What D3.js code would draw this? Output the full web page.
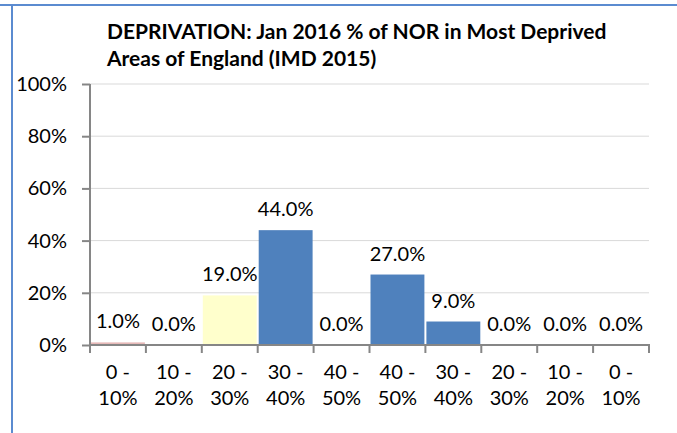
<!DOCTYPE html>
<html>
<head>
<meta charset="utf-8">
<script src="https://cdn.jsdelivr.net/npm/d3@7"></script>
<style>
  body { margin: 0; background: #fff; }
  text { font-family: Lato, "Open Sans", sans-serif; fill: #000; }
</style>
</head>
<body>
<div id="chart"></div>
<script>
// data
var categories = ["0 - 10%", "10 - 20%", "20 - 30%", "30 - 40%", "40 - 50%",
                  "40 - 50%", "30 - 40%", "20 - 30%", "10 - 20%", "0 - 10%"]
var values = [1.0, 0.0, 19.0, 44.0, 0.0, 27.0, 9.0, 0.0, 0.0, 0.0]
var barColors = ["#E6B9B8", "#4F81BD", "#FFFFCC", "#4F81BD", "#4F81BD",
                 "#4F81BD", "#4F81BD", "#4F81BD", "#4F81BD", "#4F81BD"]
var yTicks = [0, 20, 40, 60, 80, 100]
var titleLines = ["DEPRIVATION: Jan 2016 % of NOR in Most Deprived",
                  "Areas of England (IMD 2015)"]

var W = 677, H = 433
var plotLeft = 90, plotRight = 649, plotTop = 84, plotBottom = 345

var svg = d3.select("#chart").append("svg")
  .attr("width", W)
  .attr("height", H)

// frame
svg.append("line")
  .attr("x1", 0).attr("x2", W).attr("y1", 5).attr("y2", 5)
  .attr("stroke", "#5B8BD0").attr("stroke-width", 2)
svg.append("line")
  .attr("x1", 12).attr("x2", 12).attr("y1", 5).attr("y2", H)
  .attr("stroke", "#5B8BD0").attr("stroke-width", 2)

// title
svg.append("g").selectAll("text")
  .data(titleLines)
  .join("text")
  .attr("x", 107)
  .attr("y", (d, i) => 39 + i * 27)
  .attr("font-size", 21)
  .attr("font-weight", "bold")
  .text(d => d)

var x = d3.scaleBand()
  .domain(d3.range(categories.length))
  .range([plotLeft, plotRight])
  .padding(0)

var y = d3.scaleLinear()
  .domain([0, 100])
  .range([plotBottom, plotTop])

// gridlines
svg.append("g").selectAll("line")
  .data(yTicks.filter(d => d > 0))
  .join("line")
  .attr("x1", plotLeft).attr("x2", plotRight)
  .attr("y1", d => y(d)).attr("y2", d => y(d))
  .attr("stroke", "#D9D9D9")

// bars
svg.append("g").selectAll("rect")
  .data(values)
  .join("rect")
  .attr("x", (d, i) => x(i) + 1)
  .attr("width", x.bandwidth() - 2)
  .attr("y", d => y(d))
  .attr("height", d => y(0) - y(d))
  .attr("fill", (d, i) => barColors[i])

// value labels
svg.append("g").selectAll("text")
  .data(values)
  .join("text")
  .attr("x", (d, i) => x(i) + x.bandwidth() / 2)
  .attr("y", d => y(d) - 14)
  .attr("text-anchor", "middle")
  .attr("font-size", 20)
  .text(d => d.toFixed(1) + "%")

// y axis
var yAxis = svg.append("g")
  .attr("transform", `translate(${plotLeft},0)`)
  .call(d3.axisLeft(y).tickValues(yTicks).tickSize(8).tickPadding(15)
    .tickFormat(d => d + "%"))
yAxis.select(".domain").attr("stroke", "#868686").attr("stroke-width", 2)
  .attr("d", `M0,${plotTop}V${plotBottom}`)
yAxis.selectAll(".tick line").attr("stroke", "#868686").attr("stroke-width", 2)
yAxis.selectAll(".tick text").attr("font-size", 20)
  .style("font-family", "Lato").attr("fill", "#000")

// x axis
var xAxis = svg.append("g")
  .attr("transform", `translate(0,${plotBottom})`)
xAxis.append("line")
  .attr("x1", plotLeft).attr("x2", plotRight + 1)
  .attr("stroke", "#868686").attr("stroke-width", 2)
xAxis.selectAll(".tk")
  .data(d3.range(categories.length + 1))
  .join("line")
  .attr("class", "tk")
  .attr("x1", i => i < categories.length ? x(i) : plotRight)
  .attr("x2", i => i < categories.length ? x(i) : plotRight)
  .attr("y1", 0).attr("y2", 8)
  .attr("stroke", "#868686").attr("stroke-width", 2)

var xl = xAxis.selectAll(".lbl")
  .data(categories)
  .join("text")
  .attr("class", "lbl")
  .attr("text-anchor", "middle")
  .attr("font-size", 20)
xl.selectAll("tspan")
  .data((d, i) => {
    var parts = d.split(" - ")
    return [{t: parts[0] + " -", i: i, l: 0}, {t: parts[1], i: i, l: 1}]
  })
  .join("tspan")
  .attr("x", d => x(d.i) + x.bandwidth() / 2)
  .attr("y", d => 34 + d.l * 26)
  .text(d => d.t)
</script>
</body>
</html>
